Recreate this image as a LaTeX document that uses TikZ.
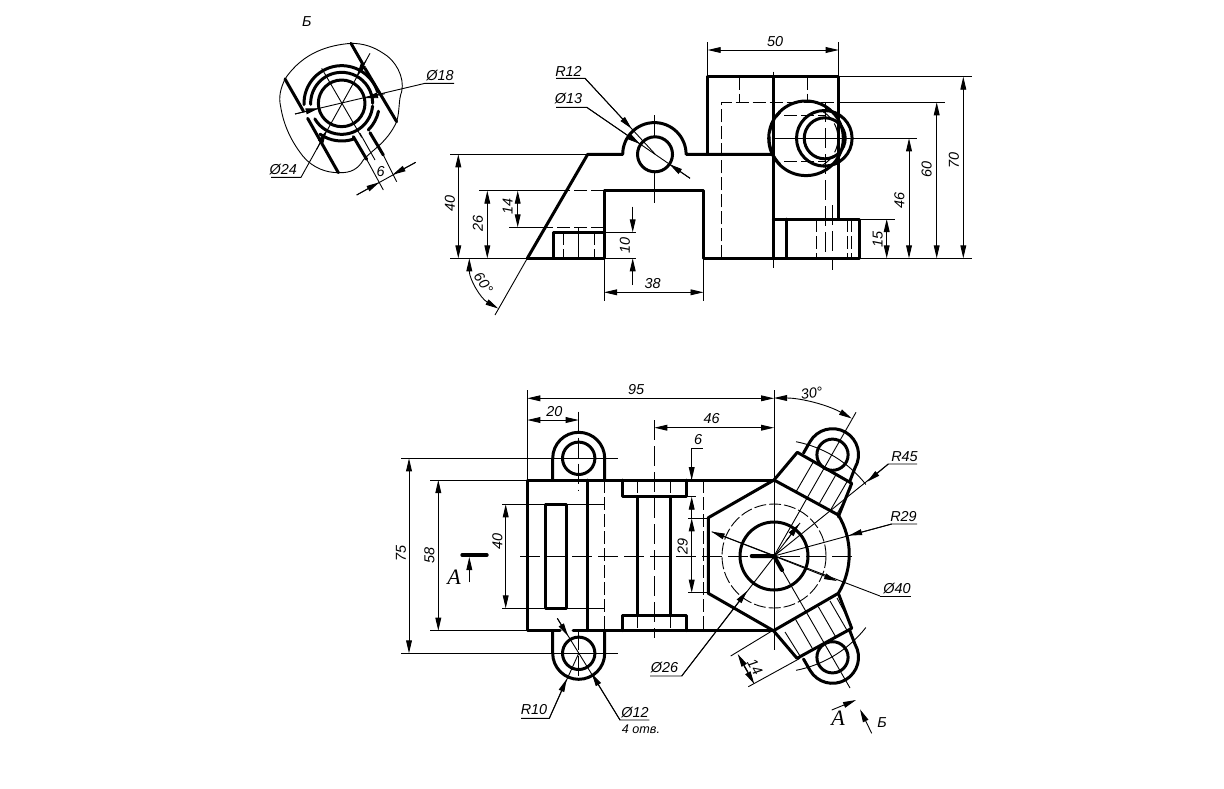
\documentclass[tikz,border=0pt]{standalone}
\usepackage{fontspec}
\setmainfont{Liberation Sans}
\newfontfamily\serfont{Liberation Serif}
\usetikzlibrary{arrows.meta}
\newcommand\dimfont{\fontsize{7.2pt}{8pt}\selectfont\itshape}
\tikzset{
  x=0.5pt,y=-0.5pt,
  tip/.tip={Triangle[length=6.5pt,width=2.9pt]},
  thk/.style={line width=1.5pt,line cap=round,line join=round},
  thn/.style={line width=0.45pt},
  hid/.style={line width=0.5pt,dash pattern=on 6.5pt off 2pt},
  ctr/.style={line width=0.45pt,dash pattern=on 10pt off 3pt},
  dimb/.style={thn,{tip}-{tip}},
  dime/.style={thn,-{tip}},
  lbl/.style={font=\dimfont,inner sep=0pt},
}
\begin{document}
\begin{tikzpicture}
\useasboundingbox (0,0) rectangle (1224,788);
\fill[white] (0,0) rectangle (1224,788);
%------------------- view B
\node[lbl] (bB) at (306.7,22) {Б};
\begin{scope}[shift={(260,0)},scale=0.33333]
 \draw[thn] (75,237) .. controls (62,265) and (55,290) .. (62,320) .. controls (70,370) and (90,420) .. (130,470) .. controls (160,505) and (200,518) .. (235,518) .. controls (275,520) and (295,505) .. (310,480) .. controls (335,450) and (380,430) .. (410,365) .. controls (420,330) and (415,300) .. (425,275) .. controls (435,230) and (405,180) .. (370,160) .. controls (340,140) and (310,130) .. (273,130) .. controls (210,135) and (130,155) .. (75,237);
 \draw[thn] (185,205) -- (305,412);
 \draw[thn] (300,400) -- (345,480);
 \draw[thk] (245,310) ++(70,0) arc[start angle=0,end angle=360,radius=70];
 \draw[thk] (245,310) ++(178:93) arc[start angle=178,end angle=360,radius=93];
 \draw[thk] (245,310) ++(5:93) arc[start angle=5,end angle=150,radius=93];
 \draw[thk] (245,310) ++(178:113) arc[start angle=178,end angle=342,radius=113];
 \draw[thk] (245,310) ++(12:113) arc[start angle=12,end angle=45,radius=113];
 \draw[thk] (245,310) ++(72:113) arc[start angle=72,end angle=125,radius=113];
 \draw[thk] (75,237) -- (130,333);
 \draw[thk] (143,355) -- (235,518);
 \draw[thk] (273,130) -- (310,195);
 \draw[thk] (315,205) -- (410,365);
 \draw[thk] (280,410) -- (320,478);
 \draw[thk] (330,398) -- (370,465);
 \draw[thn] (320,478) -- (370,570);
 \draw[thn] (370,465) -- (410,545);
 \draw[thn] (290,585) -- (467,487);
 \draw[dime] (290,585) -- (358,547);
 \draw[dime] (467,487) -- (398,524);
 \draw[thn] (582,250) -- (495,250) -- (105,342);
 \draw[dime] (105,342) -- (176,325);
 \draw[dime] (375,281) -- (315,294);
 \draw[thn] (33,532) -- (123,532) -- (330,160);
 \draw[dime] (170,448) -- (200,391);
 \draw[dime] (318,182) -- (290,229);
\end{scope}
\node[lbl] (t18) at (440,76) {Ø18};
\node[lbl] (t24) at (283.3,169.3) {Ø24};
\node[lbl,rotate=0] (t6a) at (380.7,171.7) {6};
%------------------- front view
\draw[thk] (527.3,258.3) -- (587.7,154.3) -- (622.7,154.3) arc[start angle=180,end angle=360,radius=31.7] -- (773.3,154.3);
\draw[thn] (527.3,258.3) -- (495,315);
\draw[thk] (655,154.3) circle[radius=17.5];
\draw[thk] (527.3,258.3) -- (604,258.3) -- (604,190.7) -- (703.5,190.7) -- (703.5,258.3) -- (859,258.3) -- (859,219) -- (773.3,219);
\draw[thk] (553,258.3) -- (553,232.3) -- (604,232.3);
\draw[thk] (707.7,154.3) -- (707.7,76.7) -- (838.7,76.7) -- (838.7,219);
\draw[thk] (773.3,76.7) -- (773.3,258.3);
\draw[thk] (786.5,219) -- (786.5,258.3);
\draw[thn] (773.3,71.7) -- (773.3,76.7);
\draw[thn] (773.3,258.3) -- (773.3,267.7);
% hidden
\draw[hid] (563.3,232.3) -- (563.3,258.3);
\draw[hid] (594,232.3) -- (594,258.3);
\draw[thn] (578.3,228) -- (578.3,260);
\draw[hid] (604,190.7) -- (565,190.7);
\draw[hid] (604,227.3) -- (547,227.3);
\draw[thn] (654.3,115) -- (654.3,136);
\draw[thn] (654.3,172) -- (654.3,203.3);
\draw[hid] (721.7,258.3) -- (721.7,102.3) -- (838.7,102.3);
\draw[hid] (739.3,76.7) -- (739.3,102.3);
\draw[hid] (807.3,76.7) -- (807.3,102.3);
\draw[ctr] (825.3,102) -- (825.3,258.3);
\draw[hid] (816.7,219) -- (816.7,258.3);
\draw[hid] (847.3,219) -- (847.3,258.3);
\draw[hid] (851,219) -- (851,258.3);
\draw[ctr] (832.3,205) -- (832.3,270);
% boss
\draw[thk] (806,138.3) circle[radius=37.3];
\draw[thk] (824.3,138.3) circle[radius=27.8];
\draw[thk] (824.7,138.3) circle[radius=20.5];
\draw[hid] (784,115.7) -- (825,115.7);
\draw[hid] (784,161.7) -- (825,161.7);
\draw[hid] (807,138.3) ++(-60:31) arc[start angle=-60,end angle=60,radius=31];
\draw[hid] (806,138.3) ++(135:36) arc[start angle=135,end angle=225,radius=36];
\draw[thn] (771.7,138.3) -- (916.7,138.3);
% dims front
\draw[thn] (450,154.3) -- (587.7,154.3);
\draw[thn] (450,258.3) -- (527.3,258.3);
\draw[dimb] (458.3,154.3) -- (458.3,258.3);
\node[lbl,rotate=90] (t40f) at (450,203) {40};
\draw[thn] (479.3,190.7) -- (565,190.7);
\draw[dimb] (487.3,190.7) -- (487.3,258.3);
\node[lbl,rotate=90] (t26) at (478,223) {26};
\draw[thn] (509,227.3) -- (547,227.3);
\draw[dimb] (517.7,190.7) -- (517.7,227.3);
\node[lbl,rotate=90] (t14) at (507.7,206.7) {14};
\draw[thn] (604,232.3) -- (636,232.3);
\draw[thn] (604,258.3) -- (636,258.3);
\draw[dime] (632.7,206.7) -- (632.7,232.3);
\draw[dime] (632.7,285) -- (632.7,258.3);
\node[lbl,rotate=90] (t10) at (625,245) {10};
\draw[thn] (604,258.3) -- (604,300.7);
\draw[thn] (703.5,258.3) -- (703.5,300.7);
\draw[dimb] (604,292.3) -- (703.5,292.3);
\node[lbl] (t38) at (652.7,284) {38};
\draw[thn,{tip}-{tip}] (469.3,258.3) arc[start angle=180,end angle=120,radius=58];
\node[lbl,rotate=-55] (t60) at (483.5,283) {60°};
% leaders
\draw[thn] (556,78.3) -- (585,78.3) -- (655,154);
\draw[dime] (585,78.3) -- (631.5,128.5);
\node[lbl] (tr12) at (568.5,71.7) {R12};
\draw[thn] (556,107.3) -- (586.7,107.3) -- (690,178.3);
\draw[dime] (586.7,107.3) -- (640,144);
\draw[dime] (690,178.3) -- (669.5,164.2);
\node[lbl] (td13) at (568.5,98.7) {Ø13};
\draw[thn] (707.7,76.7) -- (707.7,41.7);
\draw[thn] (838.7,76.7) -- (838.7,41.7);
\draw[dimb] (707.7,50) -- (838.7,50);
\node[lbl] (t50) at (775,42) {50};
\draw[thn] (838.7,76.7) -- (971.7,76.7);
\draw[thn] (859,258.3) -- (971.7,258.3);
\draw[dimb] (963.3,76.7) -- (963.3,258.3);
\node[lbl,rotate=90] (t70) at (954,160) {70};
\draw[thn] (838.7,102.3) -- (945,102.3);
\draw[dimb] (936.7,102.3) -- (936.7,258.3);
\node[lbl,rotate=90] (t60f) at (926.7,169) {60};
\draw[dimb] (909,138.3) -- (909,258.3);
\node[lbl,rotate=90] (t46f) at (899.3,200) {46};
\draw[thn] (859,219) -- (895,219);
\draw[dimb] (886.7,219) -- (886.7,258.3);
\node[lbl,rotate=90] (t15) at (877.7,239.3) {15};
%------------------- top view
\draw[thk] (560,630.7) -- (527.3,630.7) -- (527.3,480) -- (774,480);
\draw[thk] (573,630.7) -- (773.5,630.7);
% ears
\draw[thk] (552.7,480) -- (552.7,458.3) arc[start angle=180,end angle=360,radius=26] -- (604.7,480);
\draw[thk] (578.7,458.3) circle[radius=16.2];
\draw[thk] (552.7,630.7) -- (552.7,653.3) arc[start angle=180,end angle=0,radius=26] -- (604.7,630.7);
\draw[thk] (578.7,653.3) circle[radius=16.2];
\draw[thk] (587.7,480) -- (587.7,630.7);
\draw[hid] (604.3,480) -- (604.3,630.7);
\draw[thk] (545.7,504.3) rectangle (566.7,608.3);
\draw[ctr] (520,556) -- (856.7,556);
\draw[thk] (622.7,480) -- (622.7,496.7) -- (686,496.7) -- (686,480);
\draw[thk] (622.7,630.7) -- (622.7,615) -- (686,615) -- (686,630.7);
\draw[thk] (637.3,496.7) -- (637.3,615);
\draw[thk] (670,496.7) -- (670,615);
\draw[hid] (637.3,480) -- (637.3,496.7);
\draw[hid] (670,480) -- (670,496.7);
\draw[hid] (637.3,615) -- (637.3,630.7);
\draw[hid] (670,615) -- (670,630.7);
\draw[ctr] (654.3,420) -- (654.3,638.3);
\draw[hid] (703.3,480) -- (703.3,630.7);
% centre lines ears
\draw[ctr] (578.7,411.7) -- (578.7,490);
\draw[ctr] (578.7,630) -- (578.7,681.7);
\draw[thn] (401,458.3) -- (617.7,458.3);
\draw[thn] (401,653.3) -- (617.7,653.3);
% hub
\draw[thk] (774,480) -- (708.3,517.7) -- (708.3,593.3) -- (773.5,630.7) -- (838.3,593.3) arc[start angle=31.2,end angle=-31.2,radius=75.6] -- cycle;
\draw[thk] (774,556) circle[radius=34];
\draw[thn,dash pattern=on 6pt off 1.5pt] (774,556) circle[radius=52];
\draw[thn] (774,390) -- (774,650);
% upper lug
\draw[thk] (774,480) -- (797.3,452.3) -- (851.7,483.3) -- (838.3,516.7);
\draw[thk] (803.5,453) -- (810,441.7) arc[start angle=-150,end angle=30,radius=26] -- (849.5,482);
\draw[thk] (832.5,454.7) circle[radius=15.6];
\draw[thn] (795.7,492.3) -- (813.5,461.6);
\draw[thn] (818.3,505.3) -- (836,474.6);
\draw[thn] (830,511) -- (848,480);
\draw[thn] (837,514) -- (851,488);
\draw[thn] (774,556) -- (856,412.3);
\draw[thn] (796,441.7) arc[start angle=-79,end angle=-38,radius=117];
% lower lug
\draw[thk] (773.5,630.7) -- (797,658.3) -- (851.7,628.3) -- (838.3,593.3);
\draw[thk] (803.5,659) -- (810,670.3) arc[start angle=150,end angle=-30,radius=26] -- (849.5,630);
\draw[thk] (832.5,657.3) circle[radius=15.6];
\draw[thn] (795.7,619.7) -- (813.5,650.4);
\draw[thn] (818.3,606.7) -- (836,637.4);
\draw[thn] (830,601) -- (848,632);
\draw[thn] (837,598) -- (851,624);
\draw[thn] (785,632) -- (800,656);
\draw[thn] (774,556) -- (850,688);
\draw[thn] (796,670.3) arc[start angle=79,end angle=38,radius=117];
% section marks on hub
\draw[line width=2pt,line cap=round] (751.7,556) -- (774,556) -- (782,570);
% dims top
\draw[thn] (527.3,480) -- (527.3,390);
\draw[dimb] (527.3,398.3) -- (774,398.3);
\node[lbl] (t95) at (636,390) {95};
\draw[dimb] (527.3,420) -- (578.7,420);
\node[lbl] (t20) at (554.3,412) {20};
\draw[dimb] (654.3,427.7) -- (774,427.7);
\node[lbl] (t46) at (711.7,419) {46};
\draw[thn,{tip}-{tip}] (774,398) arc[start angle=-90,end angle=-60.5,radius=158];
\node[lbl,rotate=8] (t30) at (811.7,393.3) {30°};
\draw[thn] (691.7,480) -- (691.7,448.3) -- (702.7,448.3);
\draw[dime] (691.7,450) -- (691.7,480);
\draw[thn] (686,496.7) -- (696,496.7);
\draw[dime] (691.7,518.3) -- (691.7,496.7);
\node[lbl] (t6) at (698,440) {6};
\draw[thn] (688,518.3) -- (708.3,518.3);
\draw[thn] (688,592.7) -- (708.3,592.7);
\draw[dimb] (691.7,518.3) -- (691.7,592.7);
\node[lbl,rotate=90] (t29) at (682.7,546.7) {29};
\draw[thn] (502.3,504.3) -- (604,504.3);
\draw[thn] (502.3,608.3) -- (604,608.3);
\draw[dimb] (505.7,504.3) -- (505.7,608.3);
\node[lbl,rotate=90] (t40) at (497.3,541) {40};
\draw[thn] (430,480) -- (527.3,480);
\draw[thn] (430,630.7) -- (527.3,630.7);
\draw[dimb] (438.3,480) -- (438.3,630.7);
\node[lbl,rotate=90] (t58) at (429.3,555) {58};
\draw[dimb] (409,458.3) -- (409,653.3);
\node[lbl,rotate=90] (t75) at (401,553) {75};
% section A left
\draw[line width=2pt,line cap=round] (462.3,555) -- (486.7,555);
\draw[dime] (469.3,582.3) -- (469.3,557);
\node[font=\serfont\itshape\fontsize{11pt}{12pt}\selectfont,inner sep=0pt] (tAl) at (454,577) {A};
% leaders top
\draw[thn] (521,718.3) -- (549.3,718.3) -- (578.7,653.3);
\draw[dime] (549.3,718.3) -- (566.7,679);
\node[lbl] (tr10) at (534,710) {R10};
\draw[thn] (649.3,720) -- (620,720) -- (557.3,618.3);
\draw[dime] (620,720) -- (591.7,673.5);
\draw[dime] (557.3,618.3) -- (568,636);
\node[lbl] (td12) at (635,712.3) {Ø12};
\node[font=\fontsize{6.3pt}{7pt}\selectfont\itshape,inner sep=0pt] (totv) at (641,729) {4 отв.};
\draw[thn] (650,676) -- (681.7,676) -- (800,523);
\draw[dime] (681.7,676) -- (747,591);
\draw[dime] (786,541) -- (799,524);
\node[lbl] (td26) at (664.5,667.5) {Ø26};
\draw[thn] (880,596) -- (910.7,596);
\draw[thn] (880,596) -- (711.7,531.7);
\draw[dime] (774,556) -- (711.7,531.7);
\draw[dime] (774,556) -- (837,581);
\node[lbl] (td40) at (897,588.3) {Ø40};
\draw[thn] (917,464) -- (888.3,464) -- (774,556);
\draw[dime] (888.3,464) -- (867.3,481.7);
\node[lbl] (tr45) at (904.5,456.7) {R45};
\draw[thn] (917,524) -- (891.7,524) -- (774,556);
\draw[dime] (891.7,524) -- (849,535.5);
\node[lbl] (tr29) at (903.5,517) {R29};
% dim 14
\draw[thn] (730.7,656) -- (773.5,630);
\draw[thn] (748.3,686.7) -- (800,658.3);
\draw[dime] (748,672) -- (737.7,654);
\draw[dime] (744,666) -- (754.3,684);
\node[lbl,rotate=-60] (t14b) at (755,666.7) {14};
% section A, B right
\draw[dime] (831.7,710) -- (856,700);
\node[font=\serfont\itshape\fontsize{11pt}{12pt}\selectfont,inner sep=0pt] (tAr) at (838,718) {A};
\draw[dime] (871.7,733.3) -- (860,709.3);
\node[lbl] (tBr) at (882,722.7) {Б};
\end{tikzpicture}
\end{document}
